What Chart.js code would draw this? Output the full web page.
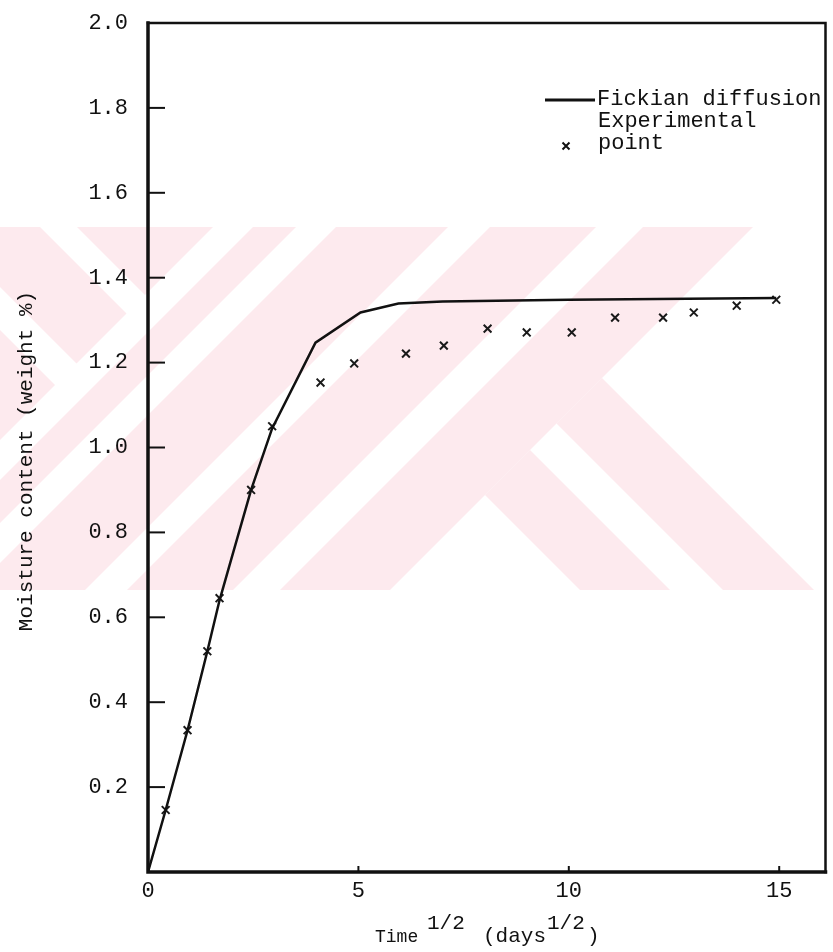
<!DOCTYPE html>
<html>
<head>
<meta charset="utf-8">
<script src="https://cdn.jsdelivr.net/npm/chart.js@4.4.1/dist/chart.umd.min.js"></script>
<style>
  html, body { margin: 0; padding: 0; background: #fff; }
  #chart { display: block; }
</style>
</head>
<body>
<canvas id="chart" width="833" height="952"></canvas>
<script>
// Fickian diffusion curve (time^1/2 in days^1/2, moisture in weight %)
const fickTime = [0, 0.42, 0.94, 1.41, 1.70, 1.93, 2.45, 2.95, 3.98, 5.05, 5.95, 7.0, 10.0, 14.93];
const fickMoisture = [0, 0.146, 0.334, 0.52, 0.64, 0.72, 0.90, 1.045, 1.247, 1.318, 1.339, 1.344, 1.348, 1.352];

// experimental points
const expTime = [0.42, 0.94, 1.41, 1.70, 2.45, 2.95, 4.10, 4.90, 6.13, 7.03, 8.07, 9.0, 10.07, 11.1, 12.24, 12.97, 13.99, 14.93];
const expMoisture = [0.146, 0.334, 0.52, 0.645, 0.90, 1.05, 1.153, 1.198, 1.221, 1.24, 1.28, 1.271, 1.271, 1.306, 1.306, 1.318, 1.334, 1.348];

const xTicks = [0, 5, 10, 15];
const yTicks = [0, 0.2, 0.4, 0.6, 0.8, 1.0, 1.2, 1.4, 1.6, 1.8, 2.0];

const FONT = "'Liberation Mono', 'DejaVu Sans Mono', monospace";
const INK = '#111';
const PINK = '#fdeaee';

const toPoints = (xs, ys) => xs.map((x, i) => ({ x: x, y: ys[i] }));

// faint scanned watermark behind the plot
const watermark = {
  id: 'watermark',
  beforeDraw(chart) {
    const ctx = chart.ctx;
    const top = 227, bot = 590;
    const uStripe = (a, b) => {
      ctx.beginPath();
      ctx.moveTo(a - top, top); ctx.lineTo(b - top, top);
      ctx.lineTo(b - bot, bot); ctx.lineTo(a - bot, bot);
      ctx.closePath(); ctx.fill();
    };
    const vStripe = (a, b) => {
      ctx.beginPath();
      ctx.moveTo(top + a, top); ctx.lineTo(top + b, top);
      ctx.lineTo(bot + b, bot); ctx.lineTo(bot + a, bot);
      ctx.closePath(); ctx.fill();
    };
    ctx.save();
    ctx.fillStyle = PINK;
    ctx.beginPath(); ctx.rect(0, top, 833, bot - top); ctx.clip();

    // left part: "\" stripes
    ctx.save();
    ctx.beginPath();
    ctx.moveTo(-400, top); ctx.lineTo(440 - top, top); ctx.lineTo(440 - bot, bot); ctx.lineTo(-400, bot);
    ctx.closePath(); ctx.clip();
    vStripe(-460, -330); vStripe(-287, -187); vStripe(-150, 300);
    ctx.restore();

    // middle: "/" stripes
    [[480, 523], [563, 675], [717, 823], [870, 980]].forEach(s => uStripe(s[0], s[1]));

    // right part: "\" stripes
    ctx.save();
    ctx.beginPath();
    ctx.moveTo(980 - top, top); ctx.lineTo(900, top); ctx.lineTo(900, bot); ctx.lineTo(980 - bot, bot);
    ctx.closePath(); ctx.clip();
    vStripe(-10, 80); vStripe(133, 224);
    ctx.restore();

    ctx.restore();
  }
};

const decorations = {
  id: 'decorations',
  afterDraw(chart) {
    const ctx = chart.ctx;
    const a = chart.chartArea;
    const xs = chart.scales.x, ys = chart.scales.y;
    ctx.save();
    ctx.strokeStyle = INK;
    ctx.fillStyle = INK;
    ctx.lineCap = 'square';

    // frame
    ctx.lineWidth = 3.5;
    ctx.beginPath(); ctx.moveTo(a.left, a.top); ctx.lineTo(a.left, a.bottom); ctx.lineTo(a.right, a.bottom); ctx.stroke();
    ctx.lineWidth = 2.5;
    ctx.beginPath(); ctx.moveTo(a.left, a.top); ctx.lineTo(a.right, a.top); ctx.lineTo(a.right, a.bottom); ctx.stroke();

    // inward tick marks
    ctx.lineWidth = 2;
    ctx.lineCap = 'butt';
    yTicks.forEach(v => {
      if (v === 0 || v === 2.0) return;
      const py = ys.getPixelForValue(v);
      ctx.beginPath(); ctx.moveTo(a.left, py); ctx.lineTo(a.left + 17, py); ctx.stroke();
    });
    xTicks.forEach(v => {
      if (v === 0) return;
      const px = xs.getPixelForValue(v);
      ctx.beginPath(); ctx.moveTo(px, a.bottom); ctx.lineTo(px, a.bottom - 6); ctx.stroke();
    });

    // y axis title
    ctx.save();
    ctx.translate(26, 461);
    ctx.rotate(-Math.PI / 2);
    ctx.font = '21px ' + FONT;
    ctx.textAlign = 'center';
    ctx.textBaseline = 'middle';
    ctx.fillText('Moisture content (weight %)', 0, 0);
    ctx.restore();

    // x axis title with superscripts
    ctx.textAlign = 'left';
    ctx.textBaseline = 'alphabetic';
    [
      ['Time', 375, 942, 18],
      ['1/2', 427, 929, 21],
      ['(days', 483, 942, 21],
      ['1/2', 547, 929, 21],
      [')', 587, 942, 21]
    ].forEach(p => {
      ctx.font = p[3] + 'px ' + FONT;
      ctx.fillText(p[0], p[1], p[2]);
    });

    // legend
    const ds = chart.data.datasets;
    ctx.font = '22px ' + FONT;
    ctx.lineWidth = 3;
    ctx.beginPath(); ctx.moveTo(545, 100); ctx.lineTo(595, 100); ctx.stroke();
    ctx.fillText(ds[0].label, 597, 105);
    ctx.lineWidth = 2;
    const mx = 566, my = 146, r = 3.5;
    ctx.beginPath();
    ctx.moveTo(mx - r, my - r); ctx.lineTo(mx + r, my + r);
    ctx.moveTo(mx + r, my - r); ctx.lineTo(mx - r, my + r);
    ctx.stroke();
    const lines = ds[1].label.split(' ');
    ctx.fillText(lines[0], 598, 127);
    ctx.fillText(lines[1], 598, 149);

    ctx.restore();
  }
};

new Chart(document.getElementById('chart'), {
  type: 'scatter',
  data: {
    datasets: [
      {
        label: 'Fickian diffusion',
        data: toPoints(fickTime, fickMoisture),
        showLine: true,
        borderColor: INK,
        borderWidth: 2.5,
        pointRadius: 0,
        tension: 0
      },
      {
        label: 'Experimental point',
        data: toPoints(expTime, expMoisture),
        showLine: false,
        pointStyle: 'crossRot',
        pointRadius: 5.5,
        borderColor: '#1a1a1a',
        borderWidth: 2
      }
    ]
  },
  options: {
    responsive: false,
    animation: false,
    devicePixelRatio: 1,
    layout: { padding: { top: 23, right: 1, left: 0, bottom: 0 } },
    plugins: {
      legend: { display: false },
      tooltip: { enabled: false }
    },
    scales: {
      x: {
        type: 'linear',
        min: 0,
        max: 16.1,
        grid: { display: false, drawTicks: false },
        border: { display: false },
        afterBuildTicks: s => { s.ticks = xTicks.map(v => ({ value: v })); },
        afterFit: s => { s.height = 80; s.paddingLeft = 0; s.paddingRight = 0; },
        ticks: {
          padding: 6,
          color: INK,
          font: { family: FONT, size: 22 },
          callback: v => String(v)
        }
      },
      y: {
        type: 'linear',
        min: 0,
        max: 2.0,
        grid: { display: false, drawTicks: false },
        border: { display: false },
        afterBuildTicks: s => { s.ticks = yTicks.map(v => ({ value: v })); },
        afterFit: s => { s.width = 148; s.paddingTop = 0; s.paddingBottom = 0; },
        ticks: {
          padding: 20,
          color: INK,
          font: { family: FONT, size: 22 },
          callback: v => (v === 0 ? '' : v.toFixed(1))
        }
      }
    }
  },
  plugins: [watermark, decorations]
});
</script>
</body>
</html>
